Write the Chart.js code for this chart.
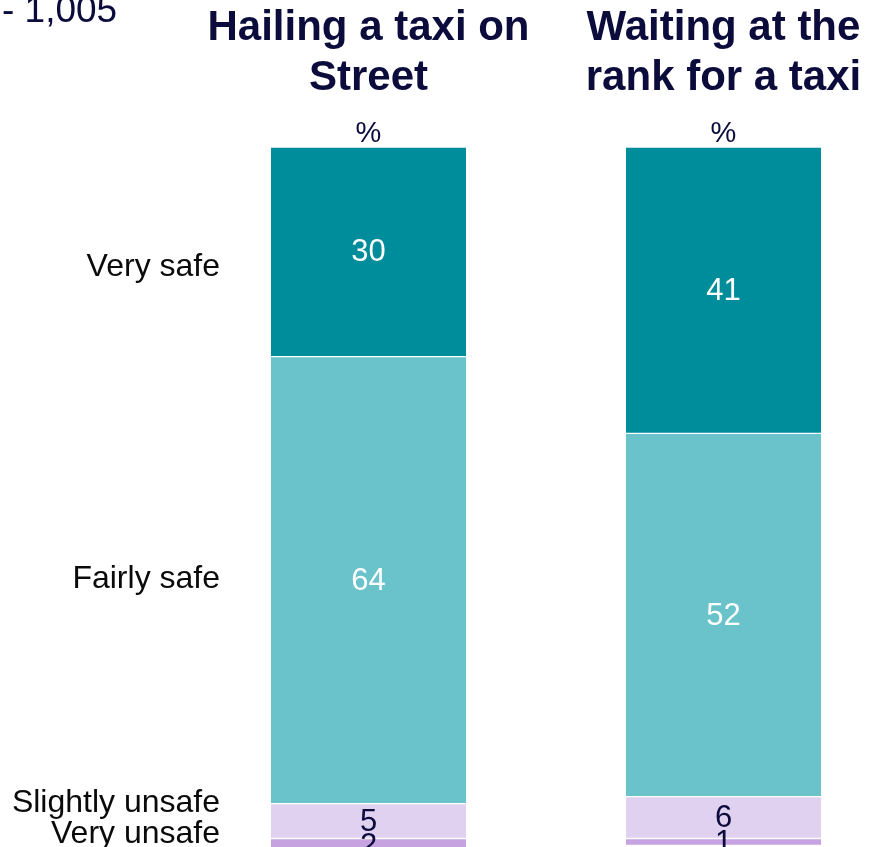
<!DOCTYPE html>
<html>
<head>
<meta charset="utf-8">
<title>Perceived safety when getting a taxi</title>
<script src="https://cdn.jsdelivr.net/npm/chart.js@4/dist/chart.umd.min.js"></script>
<style>
  html, body { margin: 0; padding: 0; background: #ffffff; overflow: hidden; }
  #wrap { width: 889px; height: 847px; position: relative; }
</style>
</head>
<body>
<div id="wrap"><canvas id="chart" width="889" height="847"></canvas></div>
<script>
// Situations (one stacked column each)
const categories = ['Hailing a taxi on Street', 'Waiting at the rank for a taxi'];
const columnTitles = [['Hailing a taxi on', 'Street'], ['Waiting at the', 'rank for a taxi']];

// Response shares, %
const verySafe       = [30, 41];
const fairlySafe     = [64, 52];
const slightlyUnsafe = [5, 6];
const veryUnsafe     = [2, 1];

const responseLabels = ['Very safe', 'Fairly safe', 'Slightly unsafe', 'Very unsafe'];
const baseNote = '- 1,005';
const unitLabel = '%';

const NAVY = '#0b0b3c';
const FONT = '"Liberation Sans", Arial, Helvetica, sans-serif';

function text(ctx, str, x, y, align) {
  ctx.textAlign = align;
  ctx.fillText(str, x, y);
}

// Titles, unit markers, response labels and segment values
const annotations = {
  id: 'annotations',
  afterDatasetsDraw(chart) {
    const ctx = chart.ctx;
    const x = chart.scales.x;
    ctx.save();

    // base note at the top left
    ctx.fillStyle = NAVY;
    ctx.textBaseline = 'alphabetic';
    ctx.font = '37px ' + FONT;
    text(ctx, baseNote, 2, 22, 'left');

    categories.forEach((c, i) => {
      const cx = x.getPixelForValue(i);
      ctx.fillStyle = NAVY;
      ctx.font = 'bold 42px ' + FONT;
      text(ctx, columnTitles[i][0], cx, 40, 'center');
      text(ctx, columnTitles[i][1], cx, 90, 'center');
      ctx.font = '29px ' + FONT;
      text(ctx, unitLabel, cx, 142, 'center');
    });

    // response labels to the left of the first column
    ctx.fillStyle = '#0a0a0a';
    ctx.font = '32px ' + FONT;
    const labelBaselines = [276, 588, 812, 843];
    responseLabels.forEach((t, k) => text(ctx, t, 220, labelBaselines[k], 'right'));

    // value inside each segment
    ctx.textBaseline = 'middle';
    ctx.font = '31px ' + FONT;
    chart.data.datasets.forEach((ds, di) => {
      const meta = chart.getDatasetMeta(di);
      meta.data.forEach((bar, i) => {
        const mid = (bar.y + bar.base) / 2;
        ctx.fillStyle = ds.valueColor;
        text(ctx, String(ds.data[i]), bar.x, mid + 1, 'center');
      });
    });
    ctx.restore();
  }
};

const seg = (label, data, color, valueColor) => ({
  label, data,
  backgroundColor: color,
  borderColor: '#ffffff',
  borderWidth: { top: 1, bottom: 1, left: 0, right: 0 },
  borderSkipped: false,
  barThickness: 195,
  clip: false,
  valueColor
});

new Chart(document.getElementById('chart'), {
  type: 'bar',
  data: {
    labels: categories,
    datasets: [
      seg(responseLabels[0], verySafe, '#008d9b', '#ffffff'),
      seg(responseLabels[1], fairlySafe, '#6ac3cb', '#ffffff'),
      seg(responseLabels[2], slightlyUnsafe, '#e1d1f1', NAVY),
      seg(responseLabels[3], veryUnsafe, '#c6a2e0', NAVY)
    ]
  },
  options: {
    responsive: false,
    devicePixelRatio: 1,
    animation: false,
    layout: { padding: { left: 368.5, right: 165.5, top: 147, bottom: 1.5 } },
    plugins: { legend: { display: false }, tooltip: { enabled: false } },
    scales: {
      x: { stacked: true, offset: false, display: false, grid: { offset: false } },
      y: { stacked: true, reverse: true, min: 0, max: 100, display: false }
    }
  },
  plugins: [annotations]
});
</script>
</body>
</html>
